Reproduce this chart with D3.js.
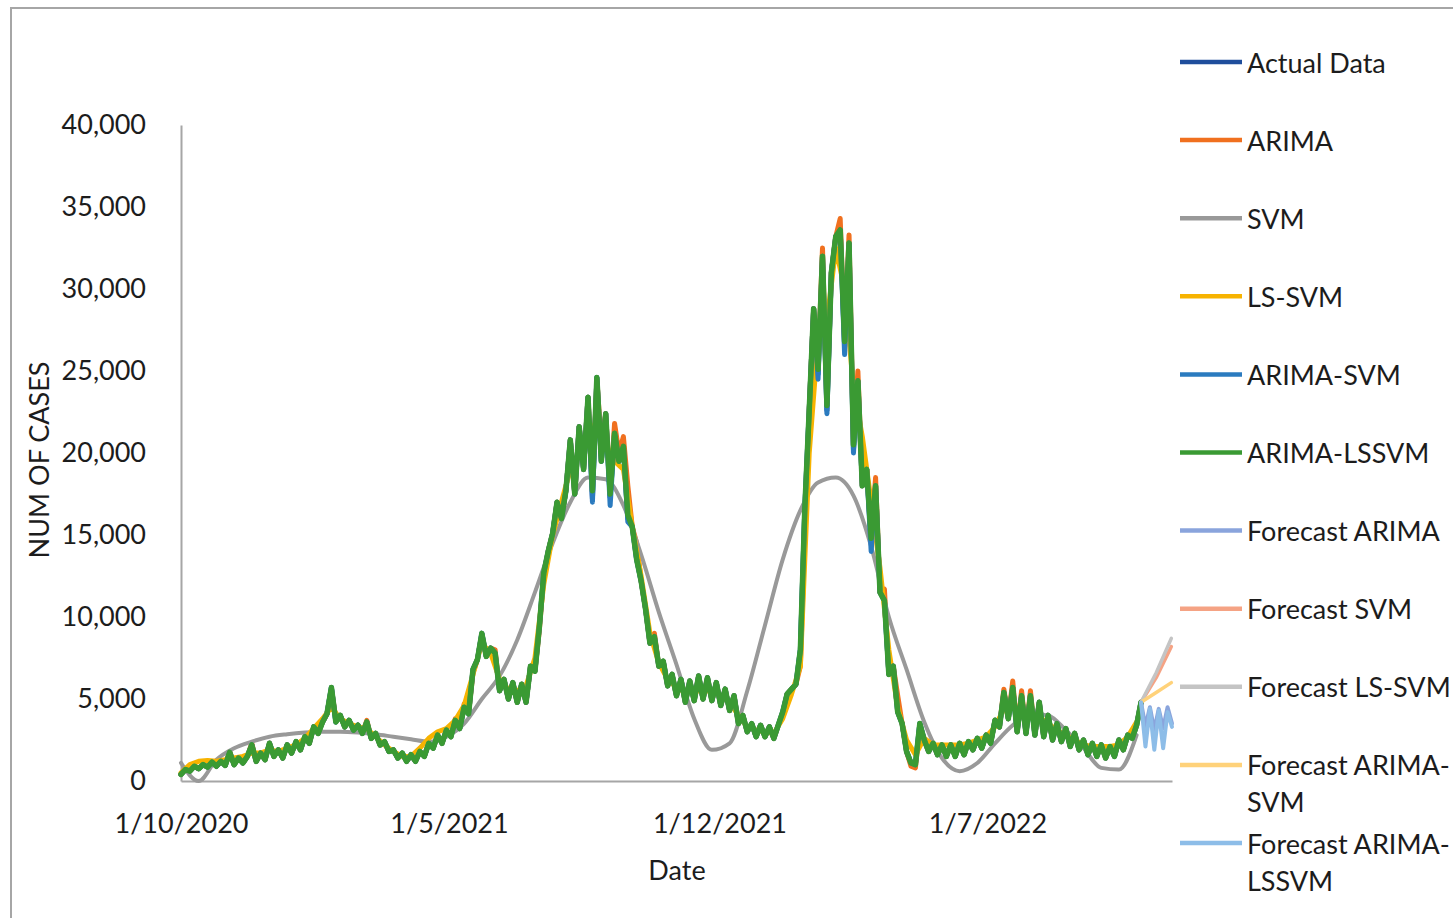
<!DOCTYPE html>
<html>
<head>
<meta charset="utf-8">
<script src="https://cdn.jsdelivr.net/npm/d3@7"></script>
<style>
  html, body { margin: 0; padding: 0; background: #ffffff; }
  svg { display: block; }
  text { font-family: Lato, "Open Sans", sans-serif; fill: #1c1c1c; }
</style>
</head>
<body>
<svg id="chart" width="1453" height="918"></svg>
<script>
// ---------------------------------------------------------------
// Data: daily COVID-19 cases sampled every half week from 1/10/2020,
// fitted values of each model, and the short out-of-sample forecasts.
// ---------------------------------------------------------------
const DAY_MS = 864e5;
const seriesStart = Date.UTC(2020, 9, 1);
const halfWeek = 3.5;       // days between samples of the fitted series
const weekStep = 7;         // days between LS-SVM samples
const svmStep = 14;         // days between SVM samples

const xTickLabels = ["1/10/2020", "1/5/2021", "1/12/2021", "1/7/2022"];
const yTicks = [0, 5000, 10000, 15000, 20000, 25000, 30000, 35000, 40000];

const arimaLssvm = [
  400, 700, 600, 900, 750, 1000, 850, 1150, 900, 1200,
  950, 1750, 1000, 1400, 1100, 1500, 2200, 1200, 1700, 1300,
  2300, 1500, 1900, 1400, 2200, 1700, 2400, 1900, 2700, 2300,
  3300, 2900, 3600, 4100, 5700, 3600, 4000, 3300, 3700, 3100,
  3400, 2900, 3600, 2600, 2900, 2200, 2400, 1800, 1900, 1400,
  1700, 1200, 1600, 1200, 1800, 1500, 2300, 2000, 2800, 2300,
  3100, 2700, 3700, 3200, 4500, 4100, 6800, 7400, 9000, 7600,
  8100, 7800, 5500, 6200, 5000, 6000, 4800, 5900, 4800, 7000,
  6700, 9400, 12700, 14000, 15100, 17000, 16000, 17700, 20800, 17500,
  21600, 19000, 23400, 17700, 24600, 19500, 22400, 17500, 21200, 19500,
  20400, 16200, 15500, 13500, 12200, 10500, 8400, 8800, 7000, 7300,
  5800, 6500, 5200, 6200, 4800, 6100, 4900, 6400, 5000, 6300,
  4900, 6000, 4600, 5600, 4300, 5200, 3500, 4000, 3000, 3500,
  2700, 3400, 2700, 3300, 2600, 3400, 4200, 5300, 5600, 5900,
  8000, 16600, 22600, 28800, 25100, 32000, 22900, 31000, 33200, 33600,
  26800, 32800, 20500, 24400, 18000, 19000, 14800, 18000, 11500, 11000,
  6500, 7000, 4200, 3500, 1800, 1100, 1000, 3500, 2500, 1800,
  2300, 1600, 2200, 1500, 2200, 1500, 2300, 1600, 2400, 1900,
  2600, 2000, 2800, 2300, 3700, 3300, 5400, 3800, 5700, 3000,
  5200, 2900, 5200, 2800, 4800, 2700, 4000, 2500, 3500, 2400,
  3200, 2100, 2900, 1900, 2500, 1600, 2300, 1500, 2200, 1400,
  2100, 1500, 2500, 1900, 2800, 2600, 3400, 4800
];

const actualData = [
  400, 700, 600, 900, 750, 1000, 850, 1150, 900, 1200,
  950, 1750, 1000, 1400, 1100, 1500, 2200, 1200, 1700, 1300,
  2300, 1500, 1900, 1400, 2200, 1700, 2400, 1900, 2700, 2300,
  3300, 2900, 3600, 4100, 5700, 3600, 4000, 3300, 3700, 3100,
  3400, 2900, 3600, 2600, 2900, 2200, 2400, 1800, 1900, 1400,
  1700, 1200, 1600, 1200, 1800, 1500, 2300, 2000, 2800, 2300,
  3100, 2700, 3700, 3200, 4500, 4100, 6800, 7400, 9000, 7600,
  8100, 7800, 5500, 6200, 5000, 6000, 4800, 5900, 4800, 7000,
  6700, 9400, 12700, 14000, 15100, 17000, 16000, 17700, 20800, 17500,
  21600, 19000, 23400, 17200, 24600, 19500, 22400, 17300, 21200, 19500,
  20400, 16000, 15500, 13500, 12200, 10500, 8400, 8800, 7000, 7300,
  5800, 6500, 5200, 6200, 4800, 6100, 4900, 6400, 5000, 6300,
  4900, 6000, 4600, 5600, 4300, 5200, 3500, 4000, 3000, 3500,
  2700, 3400, 2700, 3300, 2600, 3400, 4200, 5300, 5600, 5900,
  8000, 16600, 22600, 28800, 24800, 32000, 22600, 31000, 33200, 33600,
  26500, 32800, 20200, 24400, 18000, 19000, 14600, 18000, 11500, 11000,
  6500, 7000, 4200, 3500, 1800, 1100, 1000, 3500, 2500, 1800,
  2300, 1600, 2200, 1500, 2200, 1500, 2300, 1600, 2400, 1900,
  2600, 2000, 2800, 2300, 3700, 3300, 5400, 3800, 5700, 3000,
  5200, 2900, 5200, 2800, 4800, 2700, 4000, 2500, 3500, 2400,
  3200, 2100, 2900, 1900, 2500, 1600, 2300, 1500, 2200, 1400,
  2100, 1500, 2500, 1900, 2800, 2600, 3400, 4800
];

const arima = [
  400, 700, 600, 900, 750, 1000, 850, 1150, 900, 1200,
  950, 1800, 1000, 1400, 1100, 1500, 2300, 1200, 1700, 1300,
  2300, 1500, 1900, 1400, 2200, 1700, 2400, 1900, 2700, 2300,
  3300, 2900, 3600, 4100, 5600, 3800, 4000, 3300, 3700, 3100,
  3400, 2900, 3700, 2600, 2900, 2200, 2400, 1800, 1900, 1400,
  1700, 1200, 1600, 1200, 1800, 1500, 2300, 2000, 2800, 2300,
  3100, 2700, 3800, 3200, 4700, 4100, 6600, 7400, 8900, 7600,
  8100, 8000, 5500, 6200, 5000, 6000, 4800, 5900, 4800, 7000,
  6700, 9200, 12500, 14000, 15100, 17000, 16000, 17700, 20800, 17500,
  21600, 19000, 23400, 17700, 24500, 20500, 22400, 17500, 21800, 20000,
  21000, 18000, 15500, 14500, 12200, 10500, 8400, 9000, 7000, 7300,
  5800, 6500, 5200, 6200, 4800, 6100, 4900, 6400, 5000, 6300,
  4900, 6000, 4600, 5600, 4300, 5200, 3500, 4000, 3000, 3500,
  2700, 3400, 2700, 3300, 2600, 3400, 4000, 5300, 5600, 5900,
  7000, 15000, 22600, 28800, 25100, 32500, 22900, 31000, 33200, 34300,
  26800, 33300, 20500, 25000, 18000, 19000, 14800, 18500, 11500, 11700,
  6500, 7000, 5200, 3500, 1800, 900, 800, 3300, 2500, 1800,
  2300, 1600, 2200, 1500, 2200, 1500, 2300, 1600, 2400, 1900,
  2600, 2000, 2800, 2300, 3700, 3300, 5600, 3800, 6100, 3000,
  5500, 2900, 5500, 2800, 4800, 2700, 4000, 2500, 3500, 2400,
  3200, 2100, 2900, 1900, 2500, 1600, 2300, 1500, 2200, 1400,
  2100, 1500, 2500, 1900, 2800, 2600, 3400, 4800
];

const arimaSvm = [
  400, 700, 600, 900, 750, 1000, 850, 1150, 900, 1200,
  950, 1750, 1000, 1400, 1100, 1500, 2200, 1200, 1700, 1300,
  2300, 1500, 1900, 1400, 2200, 1700, 2400, 1900, 2700, 2300,
  3300, 2900, 3600, 4100, 5700, 3600, 4000, 3300, 3700, 3100,
  3400, 2900, 3600, 2600, 2900, 2200, 2400, 1800, 1900, 1400,
  1700, 1200, 1600, 1200, 1800, 1500, 2300, 2000, 2800, 2300,
  3100, 2700, 3700, 3200, 4500, 4100, 6800, 7400, 9000, 7600,
  8100, 7800, 5500, 6200, 5000, 6000, 4800, 5900, 4800, 7000,
  6700, 9400, 12700, 14000, 15100, 17000, 16000, 17700, 20800, 17500,
  21600, 19000, 23400, 17000, 24600, 19500, 22400, 16800, 21200, 19500,
  20400, 15800, 15500, 13500, 12200, 10500, 8400, 8800, 7000, 7300,
  5800, 6500, 5200, 6200, 4800, 6100, 4900, 6400, 5000, 6300,
  4900, 6000, 4600, 5600, 4300, 5200, 3500, 4000, 3000, 3500,
  2700, 3400, 2700, 3300, 2600, 3400, 4200, 5300, 5600, 5900,
  8000, 16600, 22600, 28800, 24500, 32000, 22400, 31000, 33200, 33600,
  26000, 32800, 20000, 24400, 18000, 19000, 14000, 18000, 11500, 11000,
  6500, 7000, 4200, 3500, 1800, 1100, 1000, 3500, 2500, 1800,
  2300, 1600, 2200, 1500, 2200, 1500, 2300, 1600, 2400, 1900,
  2600, 2000, 2800, 2300, 3700, 3300, 5400, 3800, 5700, 3000,
  5200, 2900, 5200, 2800, 4800, 2700, 4000, 2500, 3500, 2400,
  3200, 2100, 2900, 1900, 2500, 1600, 2300, 1500, 2200, 1400,
  2100, 1500, 2500, 1900, 2800, 2600, 3400, 4800
];

// LS-SVM fit, weekly samples (smoother than the half-weekly fits)
const lsSvm = [
  500, 1000, 1200, 1250, 1200, 1300, 1400, 1500, 1700, 1700,
  1900, 1800, 2000, 2200, 2600, 3200, 3800, 4500, 3800, 3500,
  3300, 3200, 2700, 2200, 1800, 1500, 1500, 2000, 2600, 3000,
  3200, 3700, 4600, 6500, 8400, 7800, 6200, 5600, 5500, 5800,
  7500, 12000, 15000, 17000, 19000, 20000, 21000, 22000, 20500, 19500,
  19000, 15500, 12500, 9000, 7200, 6200, 5700, 5400, 5400, 5600,
  5400, 5200, 4800, 4000, 3300, 3100, 3000, 2900, 3800, 5300,
  7000, 20000, 27000, 28000, 32500, 30000, 24000, 21000, 17000, 13000,
  8000, 4500, 2500, 1600, 2600, 2200, 2200, 2200, 2200, 2300,
  2500, 2700, 3300, 4400, 4500, 4300, 4200, 3900, 3500, 3100,
  2800, 2500, 2200, 2100, 2100, 2100, 2200, 2700, 3600
];

// SVM fit, fortnightly samples
const svm = [
  1100, 0, 1300, 2000, 2400, 2700, 2850, 2950, 3000, 3000,
  2950, 2850, 2700, 2550, 2400, 2700, 3500, 5000, 6400, 8600,
  11500, 14500, 17000, 18500, 18400, 16800, 13800, 10300, 7100, 3800,
  1900, 2300, 5500, 9500, 13500, 16500, 18200, 18500, 17400, 14300,
  10000, 6800, 3600, 1400, 600, 1100, 2300, 3400, 4100, 4000,
  3100, 2000, 800, 700, 2800
];

// Forecasts continue from the last observation
const forecastStartDay = 759.5;
const forecastArima = [4800, 3300, 4500, 3100, 4400, 3200, 4500, 3500];
const forecastArimaLssvm = [4800, 2100, 4400, 1900, 4300, 2000, 4200, 3300];
const forecastSvm = [4800, 6300, 8200];
const forecastLsSvm = [4800, 6600, 8700];
const forecastArimaSvm = [4800, 5400, 6000];

// ---------------------------------------------------------------
const dayDate = d => new Date(seriesStart + d * DAY_MS);
const toPoints = (values, step, offset = 0) =>
  values.map((v, i) => ({ date: dayDate(offset + i * step), value: v }));
const parseTick = s => {
  const [d, m, y] = s.split("/").map(Number);
  return new Date(Date.UTC(y, m - 1, d));
};

const svg = d3.select("#chart");
const plot = { left: 181, right: 1172, top: 125, bottom: 781 };

const x = d3.scaleUtc()
  .domain([new Date(seriesStart), new Date(Date.UTC(2022, 10, 24))])
  .range([plot.left, plot.right]);
const y = d3.scaleLinear().domain([0, 40000]).range([plot.bottom, plot.top]);

// outer chart frame (only top and left edges fall inside the page)
svg.append("rect")
  .attr("x", 11).attr("y", 8).attr("width", 1480).attr("height", 960)
  .attr("fill", "none").attr("stroke", "#a6a6a6").attr("stroke-width", 2);

const series = [
  { name: ["Actual Data"], data: toPoints(actualData, halfWeek), color: "#1f4e9c", width: 5 },
  { name: ["ARIMA"], data: toPoints(arima, halfWeek), color: "#f0701f", width: 5 },
  { name: ["SVM"], data: toPoints(svm, svmStep), color: "#999999", width: 4, smooth: true },
  { name: ["LS-SVM"], data: toPoints(lsSvm, weekStep), color: "#f7b300", width: 5 },
  { name: ["ARIMA-SVM"], data: toPoints(arimaSvm, halfWeek), color: "#2b7bbf", width: 5 },
  { name: ["ARIMA-LSSVM"], data: toPoints(arimaLssvm, halfWeek), color: "#3a9a33", width: 5.5 },
  { name: ["Forecast ARIMA"], data: toPoints(forecastArima, halfWeek, forecastStartDay), color: "#8aa4dc", width: 4 },
  { name: ["Forecast SVM"], data: toPoints(forecastSvm, 12, forecastStartDay), color: "#f5a384", width: 3.5 },
  { name: ["Forecast LS-SVM"], data: toPoints(forecastLsSvm, 12, forecastStartDay), color: "#c4c4c4", width: 3.5 },
  { name: ["Forecast ARIMA-", "SVM"], data: toPoints(forecastArimaSvm, 12, forecastStartDay), color: "#ffd27a", width: 3.5 },
  { name: ["Forecast ARIMA-", "LSSVM"], data: toPoints(forecastArimaLssvm, halfWeek, forecastStartDay), color: "#8dbde8", width: 4 }
];

// axes
const yAxis = d3.axisLeft(y).tickValues(yTicks).tickFormat(d3.format(",")).tickSize(0).tickPadding(35);
const gy = svg.append("g").attr("transform", `translate(${plot.left},0)`).call(yAxis);
gy.select(".domain").attr("stroke", "#a6a6a6").attr("stroke-width", 2);
gy.selectAll("text").attr("font-size", 27).attr("font-family", "Lato").attr("fill", "#1c1c1c");

const xAxis = d3.axisBottom(x).tickValues(xTickLabels.map(parseTick))
  .tickFormat((d, i) => xTickLabels[i]).tickSize(0).tickPadding(33);
const gx = svg.append("g").attr("transform", `translate(0,${plot.bottom})`).call(xAxis);
gx.select(".domain").attr("stroke", "#a6a6a6").attr("stroke-width", 2);
gx.selectAll("text").attr("font-size", 27).attr("font-family", "Lato").attr("fill", "#1c1c1c");

// lines
const lineGen = d3.line().x(d => x(d.date)).y(d => y(d.value));
const smoothGen = d3.line().x(d => x(d.date)).y(d => y(d.value)).curve(d3.curveMonotoneX);
svg.append("g").selectAll("path").data(series).join("path")
  .attr("d", s => (s.smooth ? smoothGen : lineGen)(s.data))
  .attr("fill", "none")
  .attr("stroke", s => s.color)
  .attr("stroke-width", s => s.width)
  .attr("stroke-linejoin", "round")
  .attr("stroke-linecap", "round");

// axis titles
svg.append("text").attr("x", 677).attr("y", 869).attr("text-anchor", "middle")
  .attr("dominant-baseline", "central").attr("font-size", 27).text("Date");
svg.append("text").attr("transform", "translate(38,460) rotate(-90)")
  .attr("text-anchor", "middle").attr("dominant-baseline", "central")
  .attr("font-size", 27).text("NUM OF CASES");

// legend
const legendTop = 62, legendGap = 78.1;
const legend = svg.append("g");
series.forEach((s, i) => {
  const cy = legendTop + i * legendGap;
  legend.append("line").attr("x1", 1180).attr("x2", 1242).attr("y1", cy).attr("y2", cy)
    .attr("stroke", s.color).attr("stroke-width", 4.5);
  s.name.forEach((line, j) => {
    legend.append("text").attr("x", 1247).attr("y", cy + j * 37)
      .attr("dominant-baseline", "central").attr("font-size", 27).text(line);
  });
});
</script>
</body>
</html>
